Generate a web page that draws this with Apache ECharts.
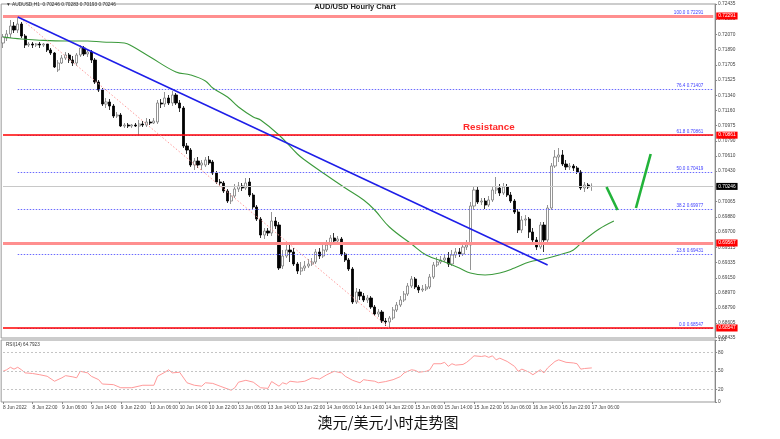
<!DOCTYPE html>
<html><head><meta charset="utf-8">
<script src="https://cdn.jsdelivr.net/npm/echarts@6/dist/echarts.min.js"></script>
<style>html,body{margin:0;padding:0;background:#fff}#c{width:780px;height:439px}</style>
</head><body><div id="c"></div>
<script>
// ---------- data ----------
const xTickLabels = ["8 Jun 2022","8 Jun 22:00","9 Jun 06:00","9 Jun 14:00","9 Jun 22:00","10 Jun 06:00","10 Jun 14:00","10 Jun 22:00","13 Jun 06:00","13 Jun 14:00","13 Jun 22:00","14 Jun 06:00","14 Jun 14:00","14 Jun 22:00","15 Jun 06:00","15 Jun 14:00","15 Jun 22:00","16 Jun 06:00","16 Jun 14:00","16 Jun 22:00","17 Jun 06:00"];
const yTickValues = [0.68435,0.68605,0.68790,0.68970,0.69150,0.69335,0.69515,0.69700,0.69880,0.70065,0.70245,0.70430,0.70610,0.70790,0.70975,0.71160,0.71340,0.71525,0.71705,0.71890,0.72070,0.72255,0.72435];
const rsiTickValues = [0,20,50,80,100];
// [open, close, low, high]
const candles = [
[0.71967,0.72039,0.71907,0.72075],[0.72027,0.72075,0.71991,0.72123],[0.72075,0.72171,0.72027,0.72243],[0.72171,0.72123,0.72087,0.72219],
[0.72123,0.72195,0.72087,0.72291],[0.72195,0.72051,0.72027,0.72219],[0.72051,0.71943,0.71907,0.72075],[0.71943,0.71955,0.71919,0.71979],
[0.71955,0.71943,0.71907,0.71979],[0.71943,0.71955,0.71919,0.71967],[0.71955,0.71943,0.71907,0.71979],[0.71943,0.71955,0.71919,0.71967],
[0.71955,0.71883,0.71859,0.71955],[0.71883,0.71847,0.71823,0.71907],[0.71847,0.71679,0.71667,0.71859],[0.71643,0.71727,0.71619,0.71763],
[0.71727,0.71787,0.71715,0.71823],[0.71787,0.71823,0.71763,0.71859],[0.71823,0.71763,0.71727,0.71847],[0.71763,0.71727,0.71691,0.71811],
[0.71727,0.71823,0.71691,0.71847],[0.71823,0.71907,0.71799,0.71943],[0.71907,0.71835,0.71811,0.71931],[0.71835,0.71859,0.71799,0.71883],
[0.71859,0.71763,0.71727,0.71883],[0.71763,0.71499,0.71475,0.71787],[0.71499,0.71403,0.71379,0.71523],[0.71403,0.71235,0.71211,0.71427],
[0.71235,0.71259,0.71187,0.71307],[0.71259,0.71211,0.71163,0.71295],[0.71211,0.71091,0.71067,0.71235],[0.71091,0.71103,0.71067,0.71139],
[0.71103,0.70971,0.70959,0.71127],[0.70971,0.70983,0.70947,0.71007],[0.70983,0.70971,0.70947,0.71007],[0.70971,0.70983,0.70947,0.70995],
[0.70983,0.70971,0.70959,0.71007],[0.70971,0.70995,0.70863,0.71043],[0.70995,0.70983,0.70959,0.71031],[0.70983,0.71019,0.70959,0.71067],
[0.71019,0.71007,0.70983,0.71055],[0.71007,0.71031,0.70995,0.71067],[0.71019,0.71247,0.70995,0.71283],[0.71247,0.71235,0.71187,0.71295],
[0.71235,0.71307,0.71199,0.71379],[0.71307,0.71247,0.71223,0.71343],[0.71247,0.71343,0.71211,0.71391],[0.71343,0.71247,0.71223,0.71367],
[0.71247,0.71187,0.71139,0.71283],[0.71187,0.70731,0.70707,0.71211],[0.70731,0.70683,0.70635,0.70767],[0.70683,0.70503,0.70479,0.70707],
[0.70503,0.70551,0.70443,0.70587],[0.70551,0.70503,0.70467,0.70599],[0.70503,0.70527,0.70443,0.70563],[0.70503,0.70563,0.70479,0.70599],
[0.70563,0.70527,0.70503,0.70611],[0.70539,0.70407,0.70383,0.70563],[0.70407,0.70299,0.70275,0.70431],[0.70299,0.70287,0.70251,0.70335],
[0.70287,0.70191,0.70167,0.70311],[0.70191,0.70071,0.70047,0.70215],[0.70071,0.70131,0.70035,0.70167],[0.70131,0.70215,0.70107,0.70275],
[0.70215,0.70251,0.70179,0.70299],[0.70251,0.70227,0.70191,0.70287],[0.70227,0.70287,0.70203,0.70347],[0.70299,0.70143,0.70119,0.70347],
[0.70143,0.69999,0.69975,0.70167],[0.69999,0.69855,0.69831,0.70023],[0.69855,0.69663,0.69627,0.69879],[0.69663,0.69711,0.69615,0.69747],
[0.69711,0.69687,0.69651,0.69747],[0.69687,0.69831,0.69651,0.69939],[0.69831,0.69771,0.69735,0.69879],[0.69783,0.69267,0.69243,0.69819],
[0.69291,0.69411,0.69255,0.69483],[0.69411,0.69483,0.69387,0.69543],[0.69483,0.69459,0.69339,0.69543],[0.69459,0.69315,0.69291,0.69507],
[0.69315,0.69231,0.69195,0.69339],[0.69231,0.69267,0.69183,0.69339],[0.69267,0.69291,0.69231,0.69351],[0.69291,0.69315,0.69267,0.69375],
[0.69315,0.69339,0.69291,0.69387],[0.69339,0.69459,0.69315,0.69495],[0.69459,0.69411,0.69375,0.69507],[0.69411,0.69483,0.69387,0.69543],
[0.69483,0.69543,0.69459,0.69603],[0.69543,0.69627,0.69507,0.69663],[0.69627,0.69591,0.69555,0.69687],[0.69591,0.69615,0.69555,0.69651],
[0.69615,0.69435,0.69411,0.69639],[0.69435,0.69363,0.69339,0.69459],[0.69363,0.69255,0.69231,0.69387],[0.69255,0.68859,0.68835,0.69279],
[0.68859,0.68979,0.68835,0.69027],[0.68979,0.68931,0.68883,0.69015],[0.68931,0.68883,0.68859,0.68967],[0.68883,0.68907,0.68847,0.68943],
[0.68907,0.68799,0.68775,0.68931],[0.68799,0.68715,0.68691,0.68823],[0.68715,0.68739,0.68679,0.68775],[0.68739,0.68631,0.68607,0.68763],
[0.68631,0.68619,0.68571,0.68667],[0.68619,0.68667,0.68547,0.68691],[0.68667,0.68763,0.68643,0.68799],[0.68763,0.68823,0.68739,0.68859],
[0.68823,0.68883,0.68799,0.68931],[0.68883,0.68955,0.68859,0.68991],[0.68955,0.69051,0.68931,0.69087],[0.69051,0.69135,0.69027,0.69171],
[0.69135,0.69039,0.69015,0.69159],[0.69039,0.69003,0.68967,0.69063],[0.69003,0.69015,0.68979,0.69063],[0.69015,0.69039,0.68991,0.69075],
[0.69039,0.69159,0.69015,0.69195],[0.69159,0.69303,0.69135,0.69339],[0.69303,0.69339,0.69279,0.69399],[0.69339,0.69363,0.69315,0.69411],
[0.69363,0.69387,0.69339,0.69435],[0.69387,0.69315,0.69279,0.69459],[0.69315,0.69423,0.69291,0.69483],[0.69423,0.69459,0.69387,0.69507],
[0.69459,0.69435,0.69399,0.69507],[0.69435,0.69519,0.69411,0.69567],[0.69519,0.69543,0.69483,0.69603],[0.69543,0.70011,0.69243,0.70059],
[0.70011,0.70203,0.69963,0.70251],[0.70203,0.70059,0.70035,0.70239],[0.70059,0.70071,0.70023,0.70107],[0.70071,0.70023,0.69975,0.70107],
[0.70023,0.70083,0.69999,0.70131],[0.70083,0.70203,0.70059,0.70251],[0.70203,0.70227,0.70155,0.70359],[0.70227,0.70167,0.70131,0.70275],
[0.70167,0.70239,0.70143,0.70287],[0.70239,0.70143,0.70119,0.70275],[0.70143,0.70071,0.70047,0.70179],[0.70071,0.69939,0.69915,0.70095],
[0.69939,0.69723,0.69687,0.69975],[0.69723,0.69843,0.69687,0.69891],[0.69843,0.69855,0.69771,0.69903],[0.69855,0.69699,0.69627,0.69879],
[0.69699,0.69603,0.69555,0.69747],[0.69603,0.69519,0.69483,0.69639],[0.69519,0.69783,0.69495,0.69819],[0.69783,0.69603,0.69459,0.69819],
[0.69603,0.69987,0.69567,0.70023],[0.69987,0.70491,0.69963,0.70527],[0.70491,0.70599,0.70467,0.70683],[0.70599,0.70623,0.70539,0.70707],
[0.70623,0.70515,0.70491,0.70683],[0.70515,0.70479,0.70443,0.70563],[0.70479,0.70491,0.70443,0.70527],[0.70491,0.70467,0.70431,0.70515],
[0.70467,0.70419,0.70395,0.70491],[0.70419,0.70227,0.70203,0.70443],[0.70227,0.70263,0.70179,0.70299],[0.70263,0.70239,0.70215,0.70287],
[0.70246,0.70246,0.70193,0.70283]
];
// moving average, [bar index, price]
const maPoints = [[0,0.72039],[5,0.72015],[9,0.72003],[17,0.71991],[23,0.71991],[27,0.71979],[33,0.71967],[35,0.71931],[40,0.71799],[47,0.71619],[51,0.71583],[55,0.71511],[57,0.71427],[61,0.71319],[64,0.71199],[68,0.71079],[70,0.71043],[75,0.70863],[80,0.70635],[82,0.70563],[87,0.70407],[93,0.70227],[98,0.70083],[101,0.69963],[105,0.69759],[111,0.69555],[115,0.69423],[120,0.69339],[124,0.69267],[127,0.69207],[131,0.69183],[135,0.69207],[139,0.69267],[143,0.69339],[147,0.69375],[152,0.69435],[155,0.69483],[158,0.69603],[162,0.69735],[166,0.69831]];
// RSI(14), [bar index, value]
const rsiPoints = [[0,49.5],[1,52],[2,56],[3,53],[4,56],[5,52],[6,47],[8,46],[10,44],[12,41.5],[14,33.5],[16,39],[17,42.5],[19,40.5],[20,39],[21,49.5],[23,47],[24,41.5],[26,36],[27,29],[30,28],[32,23],[35,23],[38,27],[41,27],[42,41.5],[44,48],[45,52],[46,47],[48,48],[50,31],[52,27],[54,25.5],[55,31],[57,30],[59,25.5],[62,19],[63,23],[64,32],[66,35],[68,32],[70,23],[72,22],[73,33],[75,25.5],[76,31],[77,29],[78,33.5],[80,32],[82,33.5],[84,39],[86,37],[88,44],[90,49.5],[92,47],[93,41.5],[95,35],[97,31],[98,36],[99,35],[101,33.5],[102,31],[104,33],[106,36],[108,41],[109,47],[111,52],[112,51],[113,48],[115,49.5],[116,52],[117,61.7],[119,61.7],[120,64],[121,57.5],[122,61.7],[123,59.5],[125,60.6],[126,64],[127,69],[128,74.5],[130,73.4],[131,74.5],[132,72],[133,74.5],[134,68],[135,70.7],[137,65.4],[139,57.5],[140,49.5],[141,53],[143,48],[144,44],[146,52],[147,47],[148,55],[150,65.4],[151,68],[153,64],[155,63],[156,61.7],[157,53],[158,54],[160,55]];
const fibRatios = ["0.0","23.6","38.2","50.0","61.8","76.4","100.0"];
const fibValues = [0.68547,0.69431,0.69977,0.70419,0.70861,0.71407,0.72291];
const fibStartBar = 4;
const levelValues = [0.72291,0.70861,0.69567,0.68547];
const currentPrice = 0.70246;
const rsiLevels = [20,50,80];
const trendLine = [[4,0.72279],[148,0.69303]];
const fibDiagonal = [[4,0.72291],[105,0.68547]];
const arrowLines = [[[164,0.70239],[167,0.69963]],[[172,0.69987],[176,0.70635]]];

// ---------- chart ----------
const CAT_N = 194, BAND = 3.68, GL = 1.16;
const cats = Array.from({length: CAT_N}, (_, i) => String(i));
const showTick = i => i % 8 === 0 && i / 8 < xTickLabels.length;
const FONT = '"Liberation Sans", Arial, sans-serif';
const AX_FS = 4.8;
const levelStyles = [
  {color:'#ff8f8f', width:3},
  {color:'#ff0000', width:1.5},
  {color:'#ff8f8f', width:3},
  {color:'#ff0000', width:1.5}
];
const boxLabel = (v, bg) => ({show:true, position:'end', formatter: v.toFixed(5), backgroundColor:bg, color:'#fff', fontSize:AX_FS, fontFamily:FONT, padding:[1,2,1,2], distance:3});
const hLine = (v, lineStyle, label) => [{coord:[0, v], lineStyle, label}, {coord:[CAT_N - 1, v]}];

const ml = [];
ml.push(hLine(currentPrice, {color:'#c8c8c8', width:1, type:'solid'}, boxLabel(currentPrice, '#000000')));
fibValues.forEach((v, k) => ml.push([
  {coord:[fibStartBar, v], lineStyle:{color:'#6a6aff', width:1, type:[1.5,1.5]},
   label:{show:true, position:'insideEndTop', formatter: fibRatios[k] + ' ' + v.toFixed(5), color:'#3c3cff', fontSize:4.6, fontFamily:FONT, distance:[10,1]}},
  {coord:[CAT_N - 1, v]}
]));
levelValues.forEach((v, k) => ml.push(hLine(v, Object.assign({type:'solid'}, levelStyles[k]), boxLabel(v, '#ff0000'))));
ml.push([{coord:fibDiagonal[0], lineStyle:{color:'#ff9c9c', width:1, type:[1.5,2]}, label:{show:false}}, {coord:fibDiagonal[1]}]);
ml.push([{coord:trendLine[0], lineStyle:{color:'#1e1ee8', width:1.5, type:'solid'}, label:{show:false}}, {coord:trendLine[1]}]);
arrowLines.forEach(a => ml.push([{coord:a[0], lineStyle:{color:'#22b33a', width:2.6, type:'solid'}, label:{show:false}}, {coord:a[1]}]));

const chart = echarts.init(document.getElementById('c'));
chart.setOption({
  animation: false,
  backgroundColor: '#ffffff',
  textStyle: {fontFamily: FONT},
  grid: [
    {left: GL, top: 4, width: CAT_N * BAND, height: 334, show: true, borderColor: '#999', borderWidth: 1, backgroundColor: '#fff'},
    {left: GL, top: 340, width: CAT_N * BAND, height: 62, show: true, borderColor: '#999', borderWidth: 1, backgroundColor: '#fff'}
  ],
  xAxis: [
    {gridIndex:0, type:'category', data:cats, boundaryGap:true, axisLine:{show:false}, axisTick:{show:false}, axisLabel:{show:false}, splitLine:{show:false}},
    {gridIndex:1, type:'category', data:cats, boundaryGap:true, axisLine:{show:false},
     axisTick:{show:true, interval:(i)=>showTick(i), alignWithLabel:true, length:2, lineStyle:{color:'#888'}},
     axisLabel:{show:true, interval:(i)=>showTick(i), formatter:(v,i)=>showTick(i)?xTickLabels[i/8]:'', fontSize:AX_FS, color:'#444', align:'left', margin:3, fontFamily:FONT},
     splitLine:{show:false}}
  ],
  yAxis: [
    {gridIndex:0, type:'value', position:'right', min:0.68427, max:0.72435, splitLine:{show:false},
     axisLine:{show:true, lineStyle:{color:'#888'}},
     axisTick:{show:true, length:2, customValues:yTickValues, lineStyle:{color:'#888'}},
     axisLabel:{show:true, customValues:yTickValues, fontSize:AX_FS, color:'#444', margin:3, fontFamily:FONT, formatter:v=>Number(v).toFixed(5)}},
    {gridIndex:1, type:'value', position:'right', min:0, max:100, splitLine:{show:false},
     axisLine:{show:true, lineStyle:{color:'#888'}},
     axisTick:{show:true, length:2, customValues:rsiTickValues, lineStyle:{color:'#888'}},
     axisLabel:{show:true, customValues:rsiTickValues, fontSize:AX_FS, color:'#444', margin:3, fontFamily:FONT}}
  ],
  series: [
    {type:'candlestick', xAxisIndex:0, yAxisIndex:0, data:candles, barWidth:2.6,
     itemStyle:{color:'#ffffff', color0:'#000000', borderColor:'#7a7a7a', borderColor0:'#000000', borderWidth:0.8}},
    {type:'line', xAxisIndex:0, yAxisIndex:0, data:maPoints, smooth:0.4, showSymbol:false, lineStyle:{color:'#3c9a3c', width:1.1}, z:3,
     markLine:{silent:true, symbol:['none','none'], animation:false, data:ml}},
    {type:'line', xAxisIndex:1, yAxisIndex:1, data:rsiPoints, showSymbol:false, lineStyle:{color:'#ff9a9a', width:1},
     markLine:{silent:true, symbol:['none','none'], animation:false, label:{show:false},
       lineStyle:{color:'#c4c4c4', width:1, type:[2,2]},
       data: rsiLevels.map(v=>[{coord:[0, v]}, {coord:[CAT_N - 1, v]}])}}
  ],
  graphic: [
    {type:'text', left:6, top:2, style:{text:'▼ AUDUSD,H1  0.70246 0.70283 0.70193 0.70246', font:'4.8px ' + FONT, fill:'#333'}},
    {type:'text', x:355, y:3, style:{text:'AUD/USD Hourly Chart', font:'bold 7.5px ' + FONT, fill:'#222', align:'center'}},
    {type:'text', left:463, top:122, style:{text:'Resistance', font:'bold 9.8px ' + FONT, fill:'#ff2a2a'}},
    {type:'text', left:6, top:342, style:{text:'RSI(14) 64.7923', font:'4.6px ' + FONT, fill:'#333'}},
    {type:'text', x:388, y:415, style:{text:'澳元/美元小时走势图', font:'15px "Noto Sans CJK SC", sans-serif', fill:'#111', align:'center'}}
  ]
});
</script></body></html>
